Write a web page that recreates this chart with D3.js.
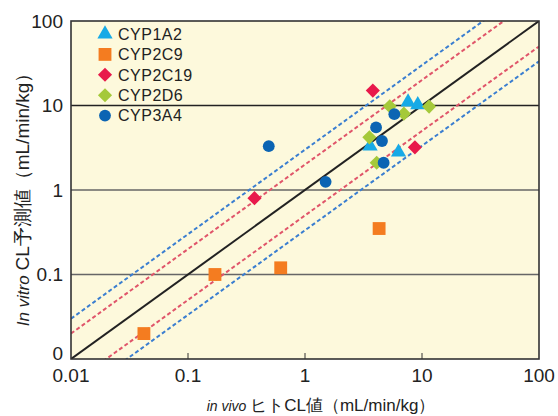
<!DOCTYPE html>
<html>
<head>
<meta charset="utf-8">
<script src="https://cdn.jsdelivr.net/npm/d3@7"></script>
<style>
  body { margin: 0; background: #fff; }
  text { font-family: "Liberation Sans", Arial, sans-serif; fill: #222; }
</style>
</head>
<body>
<div id="chart"></div>
<script>
// data (x = in vivo CL, y = in vitro predicted CL)
var cyp1a2 = [[7.6, 11], [9.2, 10.2], [3.6, 3.3], [6.3, 2.8]];
var cyp2c9 = [[0.042, 0.02], [0.17, 0.1], [0.62, 0.12], [4.3, 0.35]];
var cyp2c19 = [[3.8, 15], [0.37, 0.8], [8.7, 3.2]];
var cyp2d6 = [[5.3, 9.8], [11.5, 9.7], [7.0, 8.0], [3.55, 4.2], [4.1, 2.1]];
var cyp3a4 = [[0.49, 3.3], [5.8, 7.9], [4.05, 5.5], [4.55, 3.8], [4.7, 2.1], [1.5, 1.25]];

var seriesNames = ["CYP1A2", "CYP2C9", "CYP2C19", "CYP2D6", "CYP3A4"];
var seriesData = [cyp1a2, cyp2c9, cyp2c19, cyp2d6, cyp3a4];
var xTicks = [0.01, 0.1, 1, 10, 100];
var xTickLabels = ["0.01", "0.1", "1", "10", "100"];
var yTicks = [0.01, 0.1, 1, 10, 100];
var yTickLabels = ["0", "0.1", "1", "10", "100"];
var gridY = [0.1, 1, 10];
var foldLines = [2, 0.5, 3, 1 / 3];   // fold-error bands

//setup spacing size
var svg_w = 558, svg_h = 416;
var margin = {top: 21, right: 19, bottom: 57, left: 71};
var width = svg_w - margin.left - margin.right;
var height = svg_h - margin.top - margin.bottom;

var svg = d3.select("#chart").append("svg")
    .attr("width", svg_w)
    .attr("height", svg_h);

var g = svg.append("g")
    .attr("transform", "translate(" + margin.left + "," + margin.top + ")");

var x = d3.scaleLog().domain([0.01, 100]).range([0, width]);
var y = d3.scaleLog().domain([0.01, 100]).range([height, 0]);

// diamonds are squares turned 45 degrees
var symbols = [d3.symbolTriangle, d3.symbolSquare, d3.symbolSquare, d3.symbolSquare, d3.symbolCircle];
var rotations = [0, 0, 45, 45, 0];
var sizes = [100, 165, 100, 100, 110];
var colors = ["#17aae6", "#f47c20", "#e8194b", "#a5c93a", "#0b64b3"];

// plot background
g.append("rect")
    .attr("width", width)
    .attr("height", height)
    .attr("fill", "#fdf9dc");

g.append("defs").append("clipPath").attr("id", "clip")
  .append("rect").attr("width", width).attr("height", height);

// horizontal gridlines
g.selectAll(".grid")
    .data(gridY)
    .enter().append("line")
    .attr("x1", 0).attr("x2", width)
    .attr("y1", function(d) { return y(d); })
    .attr("y2", function(d) { return y(d); })
    .attr("stroke", function(d) { return d == 10 ? "#222" : "#666"; })
    .attr("stroke-width", 1.3);

// x ticks (inside, going up)
g.selectAll(".xt")
    .data(xTicks.slice(1, 4))
    .enter().append("line")
    .attr("x1", function(d) { return x(d); })
    .attr("x2", function(d) { return x(d); })
    .attr("y1", height).attr("y2", height - 6)
    .attr("stroke", "#333");

// fold lines
var lines = g.append("g").attr("clip-path", "url(#clip)");
lines.selectAll(".fold")
    .data(foldLines)
    .enter().append("line")
    .attr("x1", function(d) { return x(0.01); })
    .attr("y1", function(d) { return y(0.01 * d); })
    .attr("x2", function(d) { return x(100); })
    .attr("y2", function(d) { return y(100 * d); })
    .attr("stroke", function(d) { return (d == 2 || d == 0.5) ? "#e0556a" : "#3a7ed0"; })
    .attr("stroke-width", 2)
    .attr("stroke-dasharray", "4,2.6");

lines.append("line")
    .attr("x1", x(0.01)).attr("y1", y(0.01))
    .attr("x2", x(100)).attr("y2", y(100))
    .attr("stroke", "#222")
    .attr("stroke-width", 2);

// frame
g.append("rect")
    .attr("width", width)
    .attr("height", height)
    .attr("fill", "none")
    .attr("stroke", "#333")
    .attr("stroke-width", 1.6);

// points
seriesData.forEach(function(data, i) {
  g.selectAll(".pt" + i)
      .data(data)
      .enter().append("path")
      .attr("d", d3.symbol().type(symbols[i]).size(sizes[i]))
      .attr("transform", function(d) {
        return "translate(" + x(d[0]) + "," + y(d[1]) + ") rotate(" + rotations[i] + ")";
      })
      .attr("fill", colors[i]);
});

// tick labels
g.selectAll(".xl")
    .data(xTicks)
    .enter().append("text")
    .attr("x", function(d) { return x(d); })
    .attr("y", height + 23)
    .attr("text-anchor", "middle")
    .style("font-size", "19px")
    .text(function(d, i) { return xTickLabels[i]; });

g.selectAll(".yl")
    .data(yTicks)
    .enter().append("text")
    .attr("x", -8)
    .attr("y", function(d, i) { return y(d) - (i == 0 ? 6 : 0); })
    .attr("dy", "0.36em")
    .attr("text-anchor", "end")
    .style("font-size", "19px")
    .text(function(d, i) { return yTickLabels[i]; });

// legend
var legend = g.selectAll(".legend")
    .data(seriesNames)
    .enter().append("g")
    .attr("transform", function(d, i) { return "translate(34," + (13 + i * 20.4) + ")"; });

legend.append("path")
    .attr("d", function(d, i) { return d3.symbol().type(symbols[i]).size(sizes[i])(); })
    .attr("transform", function(d, i) { return "rotate(" + rotations[i] + ")"; })
    .attr("fill", function(d, i) { return colors[i]; });

legend.append("text")
    .attr("x", 13)
    .attr("dy", "0.36em")
    .style("font-size", "16px")
    .style("letter-spacing", "0.5px")
    .text(function(d) { return d; });

// axis titles
var xt = svg.append("text")
    .attr("x", 321)
    .attr("y", 411)
    .attr("text-anchor", "middle")
    .style("font-size", "17px");
xt.append("tspan").style("font-style", "italic").style("font-size", "14px").text("in vivo ");
xt.append("tspan").text("ヒトCL値（mL/min/kg）");

var yt = svg.append("text")
    .attr("transform", "translate(29,195) rotate(-90)")
    .attr("text-anchor", "middle")
    .style("font-size", "19px");
yt.append("tspan").style("font-style", "italic").style("font-size", "17px").text("In vitro ");
yt.append("tspan").text("CL予測値（mL/min/kg）");
</script>
</body>
</html>
